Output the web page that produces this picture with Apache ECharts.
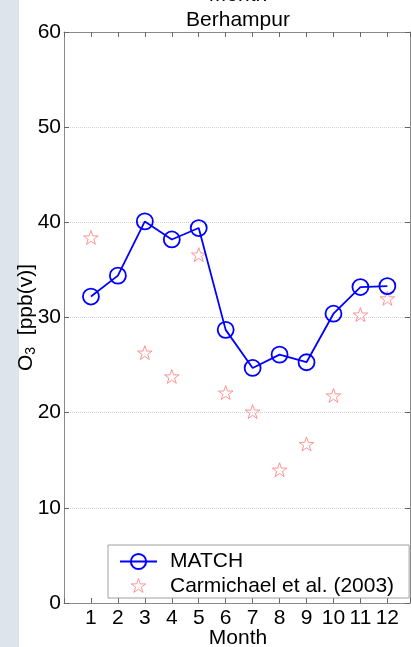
<!DOCTYPE html>
<html>
<head>
<meta charset="utf-8">
<script src="https://cdn.jsdelivr.net/npm/echarts@6/dist/echarts.min.js"></script>
<style>
html,body{margin:0;padding:0;background:#fff;}
#chart{width:411px;height:647px;}
</style>
</head>
<body>
<div id="chart"></div>
<script>
var months = [1, 2, 3, 4, 5, 6, 7, 8, 9, 10, 11, 12];
var matchO3 = [32.2, 34.4, 40.1, 38.2, 39.4, 28.7, 24.7, 26.1, 25.3, 30.4, 33.2, 33.3];
var carmichaelO3 = [38.3, null, 26.2, 23.7, 36.5, 22.0, 20.0, 13.9, 16.6, 21.7, 30.2, 31.9];
var yTicks = [0, 10, 20, 30, 40, 50, 60];

var FONT = 'Liberation Sans, Arial, Helvetica, sans-serif';
var STAR = 'path://M-12,-10 M112,114 M50,0 L61.8,35.1 L97.6,35.1 L68.7,56.8 L79.4,90.5 L50,69.8 L20.6,90.5 L31.3,56.8 L2.4,35.1 L38.2,35.1 Z';
var STAR_STYLE = {color: 'rgba(0,0,0,0)', borderColor: '#ff7a7a', borderWidth: 1};

var matchData = months.map(function (m, i) { return [m, matchO3[i]]; });
var carmData = [];
months.forEach(function (m, i) { if (carmichaelO3[i] !== null) carmData.push([m, carmichaelO3[i]]); });

function xLabel(v) {
  var r = Math.round(v);
  return (Math.abs(v - r) < 1e-6 && r >= 1 && r <= 12) ? String(r) : '';
}

var boxLine = {show: true, onZero: false, lineStyle: {color: '#8a8a8a', width: 1}};
var tickIn = {show: true, inside: true, length: 5, lineStyle: {color: '#666'}};

var chart = echarts.init(document.getElementById('chart'), null, {renderer: 'canvas'});
chart.setOption({
  animation: false,
  backgroundColor: '#fff',
  textStyle: {fontFamily: FONT},
  graphic: [
    {type: 'rect', left: 0, top: 0, shape: {x: 0, y: 0, width: 19, height: 647}, style: {fill: '#dde4ec'}, z: -10},
    {type: 'text', x: 238, y: -5, style: {text: 'Month', font: '21px ' + FONT, fill: '#000', align: 'center', verticalAlign: 'middle'}},
    {type: 'text', x: 238, y: 20, style: {text: 'Berhampur', font: '21px ' + FONT, fill: '#000', align: 'center', verticalAlign: 'middle'}},
    {type: 'text', x: 238, y: 638, style: {text: 'Month', font: '21px ' + FONT, fill: '#000', align: 'center', verticalAlign: 'middle'}}
  ],
  grid: {left: 64, right: 1, top: 32, bottom: 44, containLabel: false, outerBoundsMode: 'none'},
  xAxis: [
    {
      type: 'value', min: 0, max: 12.84, interval: 1, position: 'bottom',
      axisLine: boxLine, axisTick: tickIn,
      axisLabel: {formatter: xLabel, color: '#000', fontSize: 21, fontFamily: FONT, margin: 5},
      splitLine: {show: false}
    },
    {
      type: 'value', min: 0, max: 12.84, interval: 1, position: 'top',
      axisLine: boxLine, axisTick: tickIn,
      axisLabel: {show: false},
      splitLine: {show: false}
    }
  ],
  yAxis: [
    {
      type: 'value', min: yTicks[0], max: yTicks[yTicks.length - 1], interval: 10, position: 'left',
      name: 'O{sub|3}  [ppb(v)]', nameLocation: 'middle', nameRotate: 90, nameGap: 26, nameMoveOverlap: false,
      nameTextStyle: {color: '#000', fontSize: 21, fontFamily: FONT,
        rich: {sub: {fontSize: 14, fontFamily: FONT, color: '#000', verticalAlign: 'bottom', padding: [10, 0, 0, 0]}}},
      axisLine: boxLine, axisTick: tickIn,
      axisLabel: {color: '#000', fontSize: 21, fontFamily: FONT, margin: 3},
      splitLine: {show: true, lineStyle: {color: '#d2d2d2', type: 'dotted', width: 1}}
    },
    {
      type: 'value', min: yTicks[0], max: yTicks[yTicks.length - 1], interval: 10, position: 'right',
      axisLine: boxLine, axisTick: tickIn,
      axisLabel: {show: false},
      splitLine: {show: false}
    }
  ],
  legend: {
    orient: 'vertical', left: 108, top: 545,
    padding: [6, 15, 1, 11], itemGap: 4, itemWidth: 37, itemHeight: 19,
    backgroundColor: '#fff', borderColor: '#a0a0a0', borderWidth: 1, borderRadius: 0,
    textStyle: {color: '#000', fontSize: 21, fontFamily: FONT, padding: [0, 0, 0, 8]},
    data: [
      {name: 'MATCH'},
      {name: 'Carmichael et al. (2003)', itemStyle: STAR_STYLE}
    ]
  },
  series: [
    {
      name: 'MATCH', type: 'line', data: matchData,
      symbol: 'circle', symbolSize: 16,
      itemStyle: {color: 'rgba(0,0,0,0)', borderColor: '#0000ff', borderWidth: 1.8},
      lineStyle: {color: '#0000ff', width: 1.8},
      z: 3
    },
    {
      name: 'Carmichael et al. (2003)', type: 'scatter', data: carmData,
      symbol: STAR, symbolSize: 19, symbolKeepAspect: true,
      itemStyle: STAR_STYLE,
      z: 2
    }
  ]
});
</script>
</body>
</html>
